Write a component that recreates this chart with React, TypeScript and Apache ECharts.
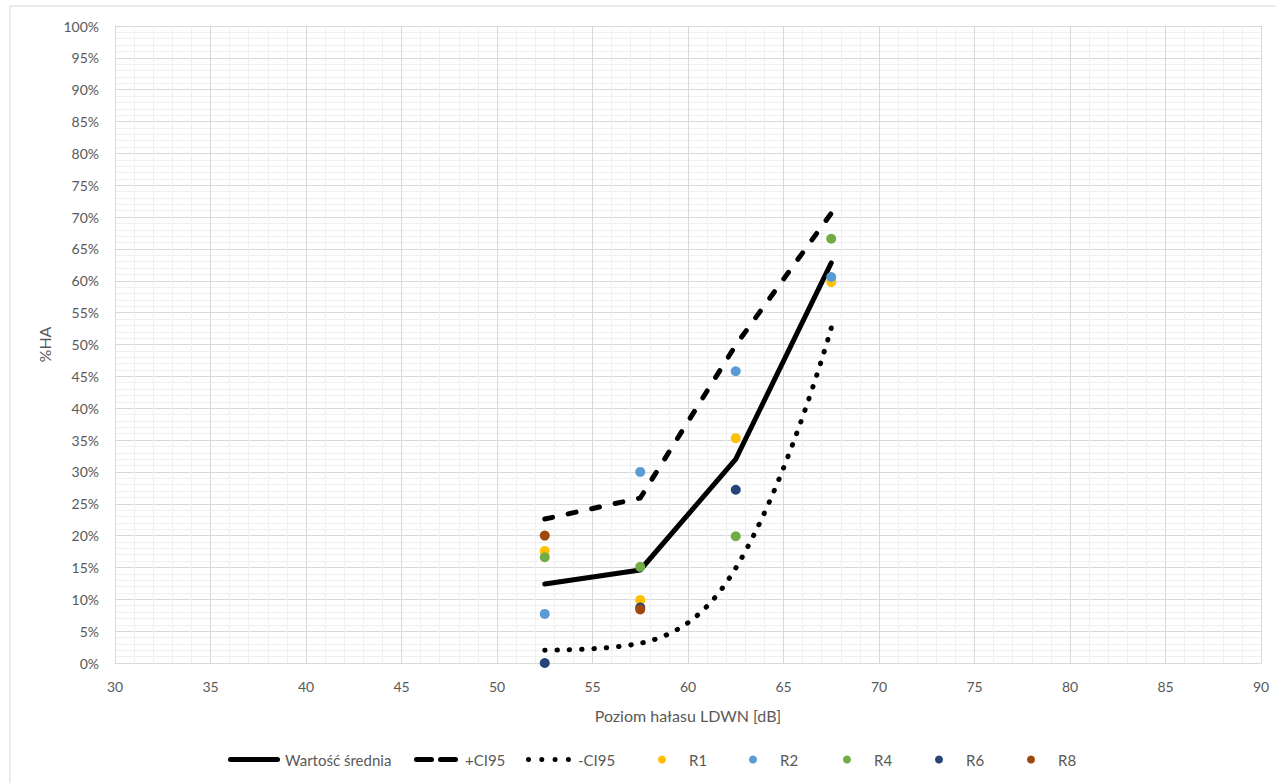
import React, { useEffect, useRef } from "react";
import * as echarts from "echarts";

const xLevels = [52.5, 57.5, 62.5, 67.5];
const meanValues = [12.4, 14.6, 32.0, 62.8];
const upperCI = [22.6, 25.9, 49.9, 70.6];
const lowerCI = [2.0, 3.1, 14.9, 52.6];

const r1Values: (number | null)[] = [17.6, 9.9, 35.3, 59.8];
const r2Values: (number | null)[] = [7.7, 30.0, 45.8, 60.6];
const r4Values: (number | null)[] = [16.6, 15.1, 19.9, 66.6];
const r6Values: (number | null)[] = [0.0, 8.7, 27.2, null];
const r8Values: (number | null)[] = [20.0, 8.4, null, null];

const seriesNames = ["Wartość średnia", "+CI95", "-CI95", "R1", "R2", "R4", "R6", "R8"];
const scatterColors = ["#FFC000", "#5B9BD5", "#70AD47", "#264478", "#9E480E"];

const FONT = "Lato";
const TEXT = "#595959";

const ICON_SOLID = "path://M2.5,0 H49.5 A2.5,2.5 0 0 1 49.5,5 H2.5 A2.5,2.5 0 0 1 2.5,0 Z";
const ICON_DASH =
  "path://M2.5,0 H17.5 A2.5,2.5 0 0 1 17.5,5 H2.5 A2.5,2.5 0 0 1 2.5,0 Z M26.5,0 H41.5 A2.5,2.5 0 0 1 41.5,5 H26.5 A2.5,2.5 0 0 1 26.5,0 Z";
const ICON_DOT =
  "path://M0,2.5 A2.5,2.5 0 1 0 5,2.5 A2.5,2.5 0 1 0 0,2.5 Z M13.3,2.5 A2.5,2.5 0 1 0 18.3,2.5 A2.5,2.5 0 1 0 13.3,2.5 Z M26.6,2.5 A2.5,2.5 0 1 0 31.6,2.5 A2.5,2.5 0 1 0 26.6,2.5 Z M39.9,2.5 A2.5,2.5 0 1 0 44.9,2.5 A2.5,2.5 0 1 0 39.9,2.5 Z";

function pairs(vals: (number | null)[]) {
  return xLevels
    .map((x, i) => (vals[i] === null ? null : [x, vals[i]]))
    .filter((p) => p !== null);
}

export default function App() {
  const ref = useRef<HTMLDivElement>(null);
  useEffect(() => {
    if (!ref.current) return;
    const chart = echarts.init(ref.current, null, { renderer: "svg" });
    const scatterSets = [r1Values, r2Values, r4Values, r6Values, r8Values];
    const lineSeries = [
      { name: seriesNames[0], data: pairs(meanValues), lineStyle: { color: "#000", width: 5, type: "solid", cap: "round", join: "round" }, smooth: false },
      { name: seriesNames[1], data: pairs(upperCI), lineStyle: { color: "#000", width: 5, type: [8, 16], cap: "round", join: "round" }, smooth: false },
      { name: seriesNames[2], data: pairs(lowerCI), lineStyle: { color: "#000", width: 5, type: [0.5, 11.8], cap: "round", join: "round" }, smooth: 0.4 },
    ].map((s) => ({
      type: "line",
      symbol: "none",
      itemStyle: { color: "#000" },
      z: 2,
      ...s,
    }));
    const scatters = scatterSets.map((vals, i) => ({
      type: "scatter",
      name: seriesNames[3 + i],
      data: pairs(vals),
      symbol: "circle",
      symbolSize: 10,
      itemStyle: { color: scatterColors[i], opacity: 1 },
      z: 3,
    }));

    const legendIcons = [ICON_SOLID, ICON_DASH, ICON_DOT, "circle", "circle", "circle", "circle", "circle"];
    const legendLeft = [228, 414, 526, 658, 749, 843, 935, 1027];
    const legendWidth = [52, 44, 45, 8, 8, 8, 8, 8];
    const legendHeight = [5, 5, 5, 8, 8, 8, 8, 8];
    const legendTextPad = [0, 2, 2, 18, 18, 18, 18, 18];
    const legends = seriesNames.map((n, i) => ({
      data: [n],
      left: legendLeft[i],
      top: 752,
      padding: 0,
      itemWidth: legendWidth[i],
      itemHeight: legendHeight[i],
      icon: legendIcons[i],
      selectedMode: false,
      textStyle: { color: TEXT, fontFamily: FONT, fontSize: 15, padding: [0, 0, 0, legendTextPad[i]] },
    }));

    chart.setOption({
      animation: false,
      backgroundColor: "#fff",
      graphic: [
        {
          type: "rect",
          shape: { x: 10, y: 6, width: 1300, height: 800 },
          style: { fill: "none", stroke: "#d9d9d9", lineWidth: 1 },
          silent: true,
          z: -10,
        },
      ],
      legend: legends,
      grid: { left: 115, right: 15, top: 26, bottom: 120 },
      xAxis: {
        type: "value",
        min: 30,
        max: 90,
        interval: 5,
        name: "Poziom hałasu LDWN [dB]",
        nameLocation: "middle",
        nameGap: 44,
        nameTextStyle: { color: TEXT, fontFamily: FONT, fontSize: 16 },
        axisLine: { show: true, lineStyle: { color: "#d9d9d9", width: 1 } },
        axisTick: { show: false },
        axisLabel: { color: TEXT, fontFamily: FONT, fontSize: 14, margin: 16 },
        splitLine: { show: true, lineStyle: { color: "#d9d9d9", width: 1 } },
        minorTick: { show: false, splitNumber: 5 },
        minorSplitLine: { show: true, lineStyle: { color: "#f0f0f0", width: 1 } },
      },
      yAxis: {
        type: "value",
        min: 0,
        max: 100,
        interval: 5,
        name: "%HA",
        nameLocation: "middle",
        nameRotate: 90,
        nameGap: 62,
        nameTextStyle: { color: TEXT, fontFamily: FONT, fontSize: 16 },
        axisLine: { show: true, lineStyle: { color: "#d9d9d9", width: 1 } },
        axisTick: { show: false },
        axisLabel: { color: TEXT, fontFamily: FONT, fontSize: 14, margin: 16, formatter: "{value}%" },
        splitLine: { show: true, lineStyle: { color: "#d9d9d9", width: 1 } },
        minorTick: { show: false, splitNumber: 5 },
        minorSplitLine: { show: true, lineStyle: { color: "#f0f0f0", width: 1 } },
      },
      series: [...lineSeries, ...scatters],
    });
    return () => chart.dispose();
  }, []);
  return (
    <div
      ref={ref}
      style={{ position: "fixed", left: 0, top: 0, width: 1276, height: 783, background: "#fff" }}
    />
  );
}
